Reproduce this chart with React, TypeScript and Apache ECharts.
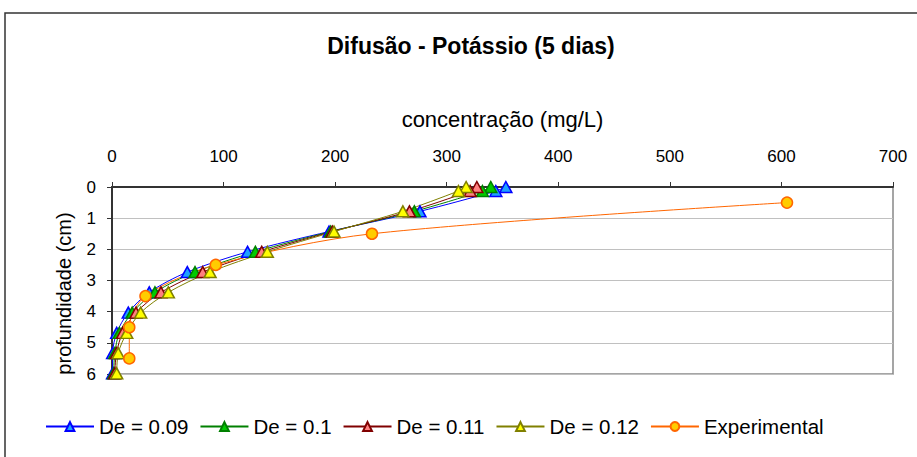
import React, { useEffect, useRef } from "react";
import * as echarts from "echarts";

// Depths (cm) of the model points and the experimental points
const depthModel = [0, 0.13, 0.78, 1.43, 2.08, 2.73, 3.38, 4.03, 4.68, 5.33, 5.98];
const depthExp = [0.5, 1.5, 2.5, 3.5, 4.5, 5.5];

// Concentrations (mg/L)
const de009 = [353, 344, 276, 194.5, 121.5, 67.5, 33.4, 14.6, 4.2, 0.6, 0.5];
const de010 = [339.5, 332, 271, 196, 128.5, 74.4, 38.5, 18.1, 6.6, 2.5, 1.5];
const de011 = [327, 321, 266.6, 197.5, 134.2, 81.3, 43.9, 21.5, 9.5, 4, 2.5];
const de012 = [317.4, 310.5, 260.7, 199, 139.2, 87.9, 50.5, 25.7, 13.2, 5.6, 4.2];
const experimental = [605, 233, 93, 30, 15.5, 15.5];

const seriesNames = ["De = 0.09", "De = 0.1", "De = 0.11", "De = 0.12", "Experimental"];
const xTicks = { min: 0, max: 700, interval: 100 };
const yTicks = { min: 0, max: 6, interval: 1 };

const FONT = "'Liberation Sans', Arial, sans-serif";

function pairs(xs: number[], ys: number[]) {
  return xs.map((x, i) => [x, ys[i]]);
}

export default function App() {
  const ref = useRef<HTMLDivElement>(null);
  useEffect(() => {
    if (!ref.current) return;
    const chart = echarts.init(ref.current, undefined, { renderer: "svg" });
    const model = (name: string, vals: number[], line: string, fill: string) => ({
      name,
      type: "line",
      data: pairs(vals, depthModel),
      smooth: 0.3,
      symbol: "triangle",
      symbolSize: [12, 11],
      lineStyle: { color: line, width: 1 },
      itemStyle: { color: fill, borderColor: line, borderWidth: 1.5 },
      emphasis: { disabled: true },
    });
    chart.setOption({
      animation: false,
      textStyle: { fontFamily: FONT },
      title: {
        text: "Difusão - Potássio (5 dias)",
        left: 471,
        top: 34,
        padding: 0,
        textAlign: "center",
        textStyle: { fontFamily: FONT, fontSize: 23, fontWeight: "bold", color: "#000" },
      },
      graphic: [
        {
          type: "rect",
          shape: { x: 5, y: 13, width: 1000, height: 600 },
          style: { fill: "none", stroke: "#333", lineWidth: 1.5 },
          silent: true,
        },
      ],
      grid: {
        left: 112,
        top: 187,
        right: 24,
        bottom: 83,
        show: true,
        borderColor: "#888",
        borderWidth: 1.5,
        backgroundColor: "#fff",
      },
      legend: {
        left: 45,
        top: 416,
        padding: 0,
        itemWidth: 48,
        itemHeight: 11,
        itemGap: 11,
        data: seriesNames,
        textStyle: { fontFamily: FONT, fontSize: 20.5, color: "#000" },
      },
      xAxis: {
        type: "value",
        position: "top",
        min: xTicks.min,
        max: xTicks.max,
        interval: xTicks.interval,
        name: "concentração (mg/L)",
        nameLocation: "middle",
        nameGap: 57,
        nameTextStyle: { fontFamily: FONT, fontSize: 22, color: "#000" },
        axisLine: { show: true, lineStyle: { color: "#333", width: 2 } },
        axisTick: { show: true, length: 5, lineStyle: { color: "#333" } },
        axisLabel: { margin: 22, fontFamily: FONT, fontSize: 17, color: "#000" },
        splitLine: { show: false },
      },
      yAxis: {
        type: "value",
        inverse: true,
        min: yTicks.min,
        max: yTicks.max,
        interval: yTicks.interval,
        name: "profundidade (cm)",
        nameLocation: "middle",
        nameGap: 38,
        nameRotate: 90,
        nameTextStyle: { fontFamily: FONT, fontSize: 20, color: "#000", padding: [0, 26, 0, 0] },
        axisLine: { show: true, lineStyle: { color: "#333", width: 2 } },
        axisTick: { show: true, length: 5, lineStyle: { color: "#333" } },
        axisLabel: { margin: 16, fontFamily: FONT, fontSize: 17, color: "#000" },
        splitLine: { show: true, lineStyle: { color: "#c0c0c0", width: 1 } },
      },
      series: [
        model(seriesNames[0], de009, "#0000ff", "#1ea0ff"),
        model(seriesNames[1], de010, "#008000", "#00cc00"),
        model(seriesNames[2], de011, "#800000", "#ff8080"),
        model(seriesNames[3], de012, "#808000", "#ffff00"),
        {
          name: seriesNames[4],
          type: "line",
          data: pairs(experimental, depthExp),
          smooth: 0.3,
          symbol: "circle",
          symbolSize: 11,
          lineStyle: { color: "#ff6600", width: 1 },
          itemStyle: { color: "#ffcc00", borderColor: "#ff6600", borderWidth: 1.5 },
          emphasis: { disabled: true },
        },
      ],
    });
    return () => chart.dispose();
  }, []);
  return (
    <div
      ref={ref}
      style={{ position: "fixed", left: 0, top: 0, width: 917, height: 457, background: "#fff" }}
    />
  );
}
